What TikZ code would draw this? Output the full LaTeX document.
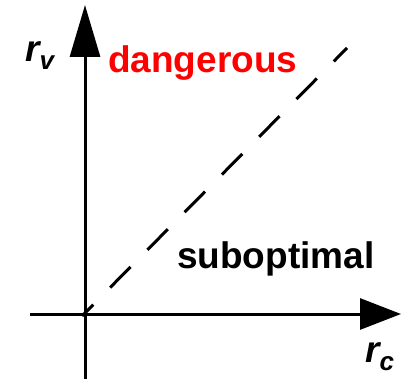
\documentclass[tikz,border=0pt]{standalone}
\usepackage{fontspec}
\setmainfont{Liberation Sans}
\usetikzlibrary{arrows.meta}
\definecolor{dangerred}{RGB}{255,0,0}
\tikzset{
  axis/.style={line width=3pt},
  guide/.style={line width=3pt, dash pattern=on 29pt off 24pt, dash phase=13pt},
  lbl/.style={inner sep=0pt, anchor=base west, font=\fontsize{37}{40}\selectfont\bfseries},
  axlbl/.style={inner sep=0pt, anchor=base west, font=\fontsize{37}{40}\selectfont\bfseries\itshape}
}
\newcommand{\subsc}[1]{\raisebox{-8pt}{\fontsize{26}{28}\selectfont #1}}
\begin{document}
\begin{tikzpicture}[x=1pt,y=-1pt]
\useasboundingbox (0,0) rectangle (401,379);
\coordinate (ybot) at (85,379);
\coordinate (ytop) at (85,5);
\coordinate (xl) at (30,314);
\coordinate (xr) at (401,314);
\coordinate (ds) at (82,316);
\coordinate (de) at (347,48);
\draw[axis,-{Triangle[length=52pt,width=30pt]}] (ybot) -- (ytop);
\draw[axis,-{Triangle[length=41pt,width=31pt]}] (xl) -- (xr);
\draw[guide] (ds) -- (de);
\node[lbl, text=dangerred] (dang) at (108,73) {dangerous};
\node[lbl] (subopt) at (177,268) {suboptimal};
\node[axlbl] (rv) at (25,62) {r\subsc{v}};
\node[axlbl] (rc) at (365,362) {r\subsc{c}};
\end{tikzpicture}
\end{document}
